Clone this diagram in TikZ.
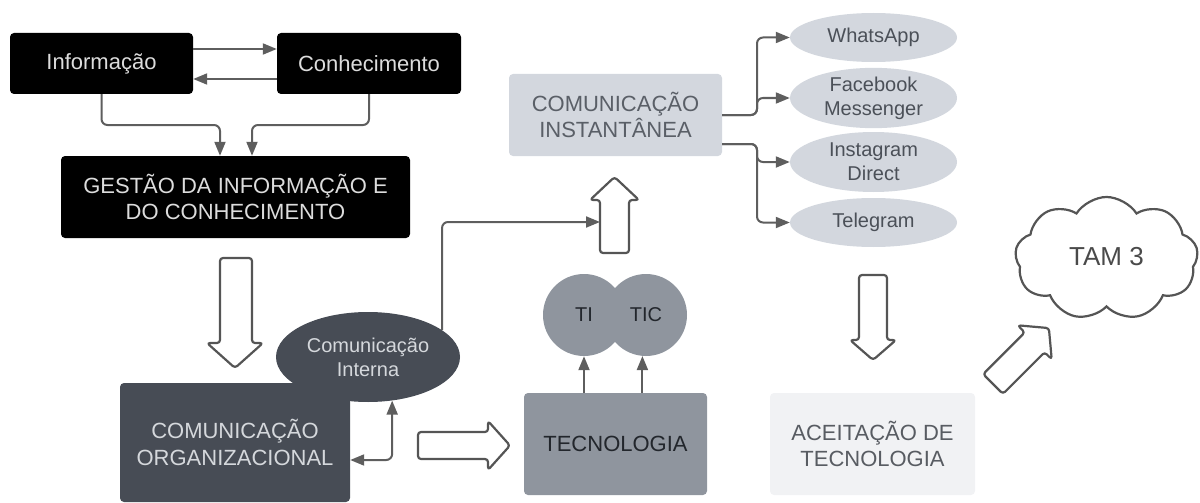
\documentclass[tikz,border=0pt]{standalone}
\usepackage{fontspec}
\setmainfont{Liberation Sans}
\usetikzlibrary{shapes.geometric,shapes.symbols,arrows.meta,calc}
\definecolor{lineg}{HTML}{5E5E5E}
\definecolor{hollowg}{HTML}{555555}
\definecolor{blacktxt}{HTML}{DCDCDC}
\definecolor{slate}{HTML}{474C55}
\definecolor{slatetxt}{HTML}{D5D8DC}
\definecolor{midg}{HTML}{8F959E}
\definecolor{midtxt}{HTML}{22262C}
\definecolor{lightb}{HTML}{D3D7DE}
\definecolor{lightbtxt}{HTML}{5A5F67}
\definecolor{elltxt}{HTML}{4B5058}
\definecolor{pale}{HTML}{F1F2F4}
\definecolor{paletxt}{HTML}{585C62}
\definecolor{cloudtxt}{HTML}{4A4A4A}
\begin{document}
\begin{tikzpicture}[x=1pt,y=-1pt,
  >={Triangle[length=14pt,width=11pt]},
  conn/.style={draw=lineg, line width=2pt, ->, rounded corners=6pt},
  biconn/.style={draw=lineg, line width=2pt, <->, rounded corners=6pt},
  big/.style={font=\fontsize{22}{26.5}\selectfont},
  small/.style={font=\fontsize{20}{24}\selectfont},
  box/.style={rectangle, rounded corners=4pt, align=center, inner sep=0pt, big},
  oval/.style={ellipse, align=center, inner sep=0pt, small, fill=lightb, text=elltxt, minimum width=167pt},
  hollow/.style={draw=hollowg, line width=2.2pt, fill=white, rounded corners=3pt, line join=round}
]
\useasboundingbox (0,0) rectangle (1200,503);

% top-left black boxes
\node[box, fill=black, text=blacktxt, minimum width=183pt, minimum height=61pt] (info) at (101.5,63.5) {Informação};
\node[box, fill=black, text=blacktxt, minimum width=184pt, minimum height=61pt] (conh) at (369,63.5) {Conhecimento};
\node[box, fill=black, text=blacktxt, minimum width=349pt, minimum height=82pt] (gestao) at (235.5,197) {GESTÃO DA INFORMAÇÃO E\\DO CONHECIMENTO};

\draw[conn] (info.east |- 0,49) -- (conh.west |- 0,49);
\draw[conn] (conh.west |- 0,79) -- (info.east |- 0,79);
\draw[conn] (info.south) -- (101.5,125) -- (220,125) -- (gestao.north -| 220,0);
\draw[conn] (conh.south) -- (369,125) -- (252,125) -- (gestao.north -| 252,0);

% hollow down arrow 1
\draw[hollow] (220,258) -- (252,258) -- (252,343) -- (263,343) -- (235,368) -- (207,343) -- (220,343) -- cycle;

% organisational communication
\node[box, fill=slate, text=slatetxt, minimum width=230pt, minimum height=119pt] (comorg) at (235,442.5) {COMUNICAÇÃO\\ORGANIZACIONAL};
\node[ellipse, fill=slate, text=slatetxt, align=center, inner sep=0pt, small, minimum width=184pt, minimum height=90pt] (comint) at (368,357) {Comunicação\\Interna};

\draw[biconn] (comorg.east |- 0,460) -| (comint.-61);

% hollow right arrow
\draw[hollow] (418,432) -- (488,432) -- (488,421) -- (510,445.5) -- (488,470) -- (488,459) -- (418,459) -- cycle;

% technology
\node[box, fill=midg, text=midtxt, minimum width=183pt, minimum height=102pt] (tecno) at (615.5,444) {TECNOLOGIA};
\node[circle, fill=midg, text=midtxt, inner sep=0pt, minimum size=82pt, small] (ti) at (584,315) {TI};
\node[circle, fill=midg, text=midtxt, inner sep=0pt, minimum size=82pt, small] (tic) at (646,315) {TIC};
\draw[conn] (tecno.north -| ti.south) -- (ti.south);
\draw[conn] (tecno.north -| tic.-95) -- (tic.-95);

% hollow up arrow
\draw[hollow] (600,253) -- (600,200) -- (590,200) -- (614.5,177) -- (639,200) -- (629,200) -- (629,253) -- cycle;
\coordinate (upL) at (600,222);
\draw[conn] (comint.20) |- (upL);

% instant communication
\node[box, fill=lightb, text=lightbtxt, minimum width=213pt, minimum height=82pt] (cominst) at (615.5,115) {COMUNICAÇÃO\\INSTANTÂNEA};
\node[oval, minimum height=49pt] (whats) at (873.5,37.5) {WhatsApp};
\node[oval, minimum height=60pt] (fb) at (873.5,98) {Facebook\\Messenger};
\node[oval, minimum height=60pt] (insta) at (873.5,162) {Instagram\\Direct};
\node[oval, minimum height=49pt] (tele) at (873.5,222.5) {Telegram};

\draw[conn] (cominst.east |- 0,115) -- (757,115) |- (whats.west);
\draw[conn] (cominst.east |- 0,115) -- (757,115) |- (fb.west);
\draw[conn] (cominst.east |- 0,144) -- (757,144) |- (insta.west);
\draw[conn] (cominst.east |- 0,144) -- (757,144) |- (tele.west);

% hollow down arrow 2
\draw[hollow] (859,275) -- (887,275) -- (887,340) -- (896,340) -- (873,360) -- (850,340) -- (859,340) -- cycle;

% acceptance
\node[box, fill=pale, text=paletxt, minimum width=205pt, minimum height=102pt] (aceit) at (872.5,444) {ACEITAÇÃO DE\\TECNOLOGIA};

% diagonal hollow arrow
\draw[hollow] (1002.9,393.9) -- (1044.6,352.2) -- (1051.7,359.3) -- (1048.9,328.1) -- (1017.7,325.3) -- (1024.8,332.4) -- (983.1,374.1) -- cycle;

% cloud
\node[cloud, draw=hollowg, line width=2.2pt, fill=white, cloud puffs=9, cloud puff arc=115, aspect=1.6, minimum width=183pt, minimum height=123pt, inner sep=0pt, text=cloudtxt, font=\fontsize{26}{30}\selectfont] (tam) at (1106.5,258.5) {\raisebox{4pt}{TAM 3}};
\end{tikzpicture}
\end{document}
